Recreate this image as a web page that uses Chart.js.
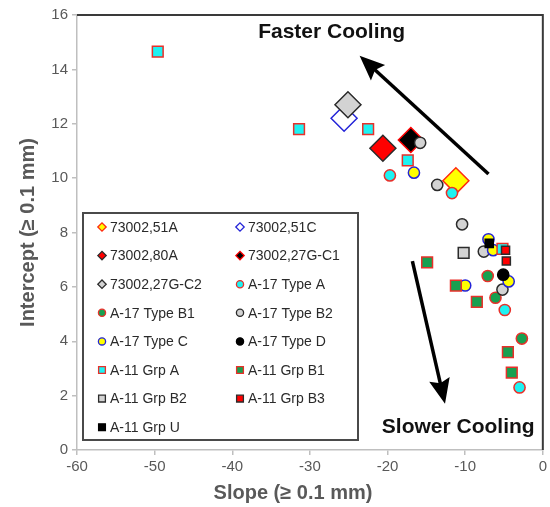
<!DOCTYPE html>
<html>
<head>
<meta charset="utf-8">
<script src="https://cdn.jsdelivr.net/npm/chart.js@4"></script>
<style>
  body { margin: 0; background: #fff; }
  canvas { display: block; }
</style>
</head>
<body>
<canvas id="chart" width="550" height="507"></canvas>
<script>
Chart.defaults.font.family = '"Liberation Sans", Arial, sans-serif';

// tick labels
const xTicks = [-60, -50, -40, -30, -20, -10, 0];
const yTicks = [0, 2, 4, 6, 8, 10, 12, 14, 16];

// series names (legend order)
const seriesNames = [
    '73002,51A', '73002,51C', '73002,80A', '73002,27G-C1', '73002,27G-C2',
    'A-17 Type A', 'A-17 Type B1', 'A-17 Type B2', 'A-17 Type C', 'A-17 Type D',
    'A-11 Grp A', 'A-11 Grp B1', 'A-11 Grp B2', 'A-11 Grp B3', 'A-11 Grp U'
];

// values: slope (x) and intercept (y)
const s51A_x = [-11.2];
const s51A_y = [9.9];
const s51C_x = [-25.6];
const s51C_y = [12.2];
const s80A_x = [-20.6];
const s80A_y = [11.1];
const s27GC1_x = [-17.0];
const s27GC1_y = [11.4];
const s27GC2_x = [-25.1];
const s27GC2_y = [12.7];
const typeA_x = [-19.7, -11.7, -4.9, -3.0];
const typeA_y = [10.1, 9.45, 5.15, 2.3];
const typeB1_x = [-7.1, -6.1, -2.7];
const typeB1_y = [6.4, 5.6, 4.1];
const typeB2_x = [-15.8, -13.6, -10.4, -7.6, -5.2];
const typeB2_y = [11.3, 9.75, 8.3, 7.3, 5.9];
const typeC_x = [-16.6, -7.0, -6.4, -4.4, -10.0];
const typeC_y = [10.2, 7.75, 7.35, 6.2, 6.05];
const typeD_x = [-5.1];
const typeD_y = [6.45];
const grpA_x = [-49.6, -31.4, -22.5, -17.4, -5.2];
const grpA_y = [14.65, 11.8, 11.8, 10.65, 7.4];
const grpB1_x = [-14.9, -11.2, -8.5, -4.5, -4.0];
const grpB1_y = [6.9, 6.05, 5.45, 3.6, 2.85];
const grpB2_x = [-10.2];
const grpB2_y = [7.25];
const grpB3_x = [-4.8, -4.7];
const grpB3_y = [7.35, 6.95];
const grpU_x = [-6.9];
const grpU_y = [7.6];

const seriesX = [s51A_x, s51C_x, s80A_x, s27GC1_x, s27GC2_x, typeA_x, typeB1_x, typeB2_x, typeC_x, typeD_x, grpA_x, grpB1_x, grpB2_x, grpB3_x, grpU_x];
const seriesY = [s51A_y, s51C_y, s80A_y, s27GC1_y, s27GC2_y, typeA_y, typeB1_y, typeB2_y, typeC_y, typeD_y, grpA_y, grpB1_y, grpB2_y, grpB3_y, grpU_y];

// marker styles
const RED = '#e8302a';
const CYAN = '#1ef2f2';
const GREEN = '#17a050';
const GRAY = '#d3d3d3';
const DARK = '#2b2b2b';
const styles = [
    { shape: 'rectRot', r: 13, fill: '#ffff00', line: '#ff2a10' },
    { shape: 'rectRot', r: 13, fill: 'rgba(255,255,255,0)', line: '#2424d8' },
    { shape: 'rectRot', r: 13, fill: '#ff0000', line: DARK },
    { shape: 'rectRot', r: 12.5, fill: '#000000', line: '#ff0000' },
    { shape: 'rectRot', r: 13, fill: GRAY, line: DARK },
    { shape: 'circle', r: 5.6, fill: CYAN, line: RED },
    { shape: 'circle', r: 5.6, fill: GREEN, line: RED },
    { shape: 'circle', r: 5.6, fill: GRAY, line: DARK },
    { shape: 'circle', r: 5.6, fill: '#ffff00', line: '#2424d8' },
    { shape: 'circle', r: 5.6, fill: '#000000', line: '#000000' },
    { shape: 'rect', r: 7.6, fill: CYAN, line: RED },
    { shape: 'rect', r: 7.6, fill: GREEN, line: RED },
    { shape: 'rect', r: 7.6, fill: GRAY, line: DARK },
    { shape: 'rect', r: 5.7, fill: '#ff0000', line: DARK },
    { shape: 'rect', r: 5.7, fill: '#000000', line: '#000000' }
];

const datasets = seriesNames.map((name, i) => ({
    label: name,
    data: seriesX[i].map((x, k) => ({ x: x, y: seriesY[i][k] })),
    pointStyle: styles[i].shape,
    pointRadius: styles[i].r,
    pointHoverRadius: styles[i].r,
    backgroundColor: styles[i].fill,
    borderColor: styles[i].line,
    borderWidth: 1.5,
    // later series are painted on top
    order: seriesNames.length - i
}));

const axisColor = '#595959';
const lineColor = '#bfbfbf';

// plot frame, arrows, annotation text, x title and the boxed legend
const overlay = {
    id: 'overlay',
    afterDraw(chart) {
        const ctx = chart.ctx;
        const area = chart.chartArea;
        const xs = chart.scales.x;
        const ys = chart.scales.y;
        ctx.save();

        // top and right frame of the plot area
        ctx.strokeStyle = '#3a3a3a';
        ctx.lineWidth = 2;
        ctx.beginPath();
        ctx.moveTo(area.left, area.top);
        ctx.lineTo(area.right, area.top);
        ctx.lineTo(area.right, area.bottom);
        ctx.stroke();

        // arrows
        function arrow(x1, y1, x2, y2) {
            const ax = xs.getPixelForValue(x1), ay = ys.getPixelForValue(y1);
            const bx = xs.getPixelForValue(x2), by = ys.getPixelForValue(y2);
            const ang = Math.atan2(by - ay, bx - ax);
            const len = 25, half = 10.5;
            const hx = bx - Math.cos(ang) * len, hy = by - Math.sin(ang) * len;
            ctx.strokeStyle = '#000';
            ctx.fillStyle = '#000';
            ctx.lineWidth = 3.5;
            ctx.beginPath();
            ctx.moveTo(ax, ay);
            ctx.lineTo(hx + Math.cos(ang) * 5, hy + Math.sin(ang) * 5);
            ctx.stroke();
            ctx.beginPath();
            ctx.moveTo(bx, by);
            ctx.lineTo(hx + Math.sin(ang) * half, hy - Math.cos(ang) * half);
            ctx.lineTo(hx + Math.cos(ang) * 4, hy + Math.sin(ang) * 4);
            ctx.lineTo(hx - Math.sin(ang) * half, hy + Math.cos(ang) * half);
            ctx.closePath();
            ctx.fill();
        }
        arrow(-7.0, 10.15, -23.6, 14.5);
        arrow(-16.8, 6.95, -12.6, 1.7);

        ctx.fillStyle = '#111';
        ctx.font = 'bold 21px "Liberation Sans", Arial, sans-serif';
        ctx.textAlign = 'center';
        ctx.textBaseline = 'middle';
        ctx.fillText('Faster Cooling', xs.getPixelForValue(-27.2), ys.getPixelForValue(15.35));
        ctx.fillText('Slower Cooling', xs.getPixelForValue(-10.9), ys.getPixelForValue(0.85));

        // x axis title (sits a little left of the plot centre in the original)
        ctx.fillStyle = axisColor;
        ctx.font = 'bold 20px "Liberation Sans", Arial, sans-serif';
        ctx.fillText('Slope (≥ 0.1 mm)', area.left + 216, area.bottom + 43);

        // legend box
        const bx = 83, by = 213, bw = 275, bh = 227;
        ctx.fillStyle = '#fff';
        ctx.fillRect(bx, by, bw, bh);
        ctx.strokeStyle = '#4a4a4a';
        ctx.lineWidth = 2;
        ctx.strokeRect(bx, by, bw, bh);

        ctx.font = '14px "Liberation Sans", Arial, sans-serif';
        ctx.textAlign = 'left';
        seriesNames.forEach((name, i) => {
            const col = i % 2, row = Math.floor(i / 2);
            const mx = bx + 19 + col * 138;
            const my = by + 14 + row * 28.6;
            const st = styles[i];
            ctx.fillStyle = st.fill === 'rgba(255,255,255,0)' ? '#fff' : st.fill;
            ctx.strokeStyle = st.line;
            ctx.lineWidth = 1.3;
            const rr = st.shape === 'rectRot' ? 4.2 : (st.shape === 'circle' ? 3.6 : 4.8);
            Chart.helpers.drawPoint(ctx, { pointStyle: st.shape, radius: rr, rotation: 0, borderWidth: 1.3 }, mx, my);
            ctx.fillStyle = '#2a2a2a';
            ctx.fillText(name, mx + 8, my + 1);
        });
        ctx.restore();
    }
};

new Chart(document.getElementById('chart'), {
    type: 'scatter',
    data: { datasets: datasets },
    options: {
        responsive: false,
        animation: false,
        layout: { autoPadding: false, padding: { top: 15, right: 6, left: 0, bottom: 0 } },
        plugins: {
            legend: { display: false },
            tooltip: { enabled: false }
        },
        scales: {
            x: {
                type: 'linear',
                min: -60,
                max: 0,
                afterBuildTicks: (scale) => { scale.ticks = xTicks.map(v => ({ value: v })); },
                afterFit: (scale) => { scale.height = 57; },
                ticks: {
                    color: axisColor,
                    font: { size: 15 },
                    padding: 3
                },
                grid: { drawOnChartArea: false, color: lineColor, tickLength: 5, lineWidth: 1.5 },
                border: { color: lineColor, width: 1.5 }
            },
            y: {
                type: 'linear',
                min: 0,
                max: 16,
                afterBuildTicks: (scale) => { scale.ticks = yTicks.map(v => ({ value: v })); },
                afterFit: (scale) => { scale.width = 77; },
                ticks: {
                    color: axisColor,
                    font: { size: 15 },
                    padding: 4
                },
                grid: { drawOnChartArea: false, color: lineColor, tickLength: 5, lineWidth: 1.5 },
                border: { color: lineColor, width: 1.5 },
                title: {
                    display: true,
                    text: 'Intercept (≥ 0.1 mm)',
                    color: axisColor,
                    font: { size: 20, weight: 'bold', lineHeight: 1.2 },
                    padding: { top: 16, bottom: 0 }
                }
            }
        }
    },
    plugins: [overlay]
});
</script>
</body>
</html>
